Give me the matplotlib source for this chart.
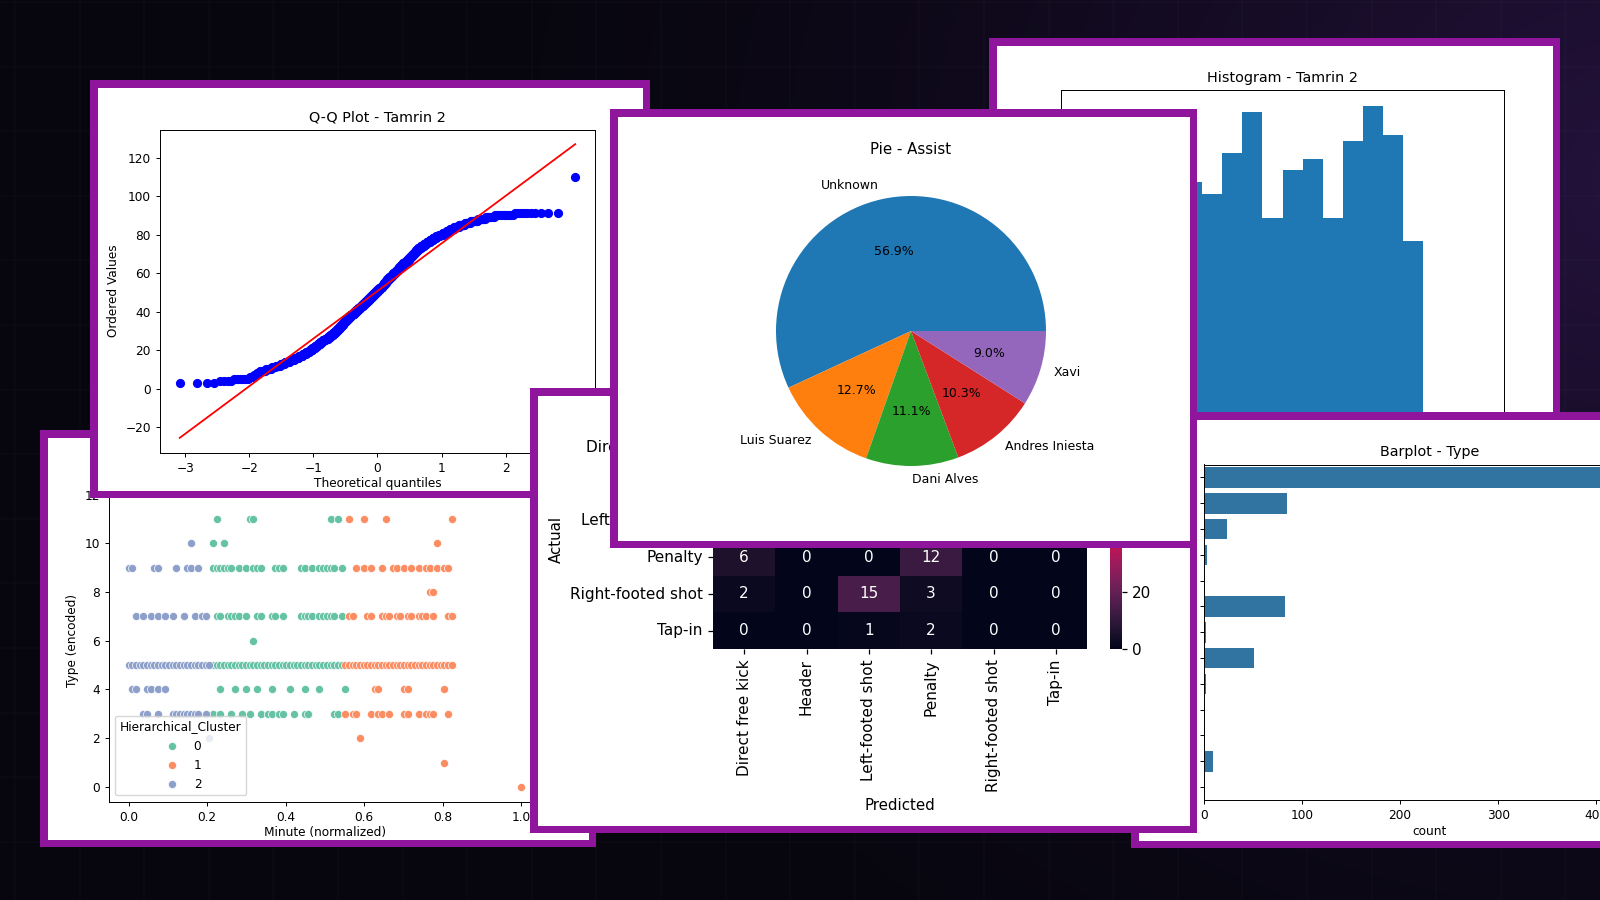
import numpy as np
import matplotlib
matplotlib.use('Agg')
import matplotlib.pyplot as plt
from matplotlib.patches import Rectangle
import seaborn as sns
from statistics import NormalDist

W, H = 1600, 900
PURPLE = '#8f159d'

# minute values (Tamrin 2) and how often each one occurs
minute_vals = [3, 4, 5, 6, 7, 8, 9, 10, 11, 12, 13, 14, 15, 16, 17, 18, 19, 20,
               21, 22, 23, 24, 25, 26, 27, 28, 29, 30, 31, 32, 33, 34, 35, 36, 37, 38,
               39, 40, 41, 42, 43, 44, 45, 46, 47, 48, 49, 50, 51, 52, 53, 54, 55, 56,
               57, 58, 59, 60, 61, 62, 63, 64, 65, 66, 67, 68, 69, 70, 71, 72, 73, 74,
               75, 76, 77, 78, 79, 80, 81, 82, 83, 84, 85, 86, 87, 88, 89, 90, 91, 110]
minute_counts = [4, 4, 7, 3, 2, 2, 5, 6, 5, 6, 6, 8, 8, 8, 8, 8, 8, 7,
                 7, 7, 7, 7, 8, 8, 8, 8, 8, 7, 7, 6, 7, 6, 7, 8, 7, 8,
                 7, 8, 9, 9, 9, 9, 9, 9, 8, 9, 8, 9, 9, 7, 7, 6, 7, 7,
                 8, 9, 8, 9, 8, 7, 8, 7, 7, 8, 7, 7, 7, 7, 6, 7, 9, 10,
                 9, 10, 9, 9, 9, 9, 9, 8, 9, 10, 10, 9, 10, 9, 8, 12, 10, 1]

# pie - assist
pie_labels = ['Unknown', 'Luis Suarez', 'Dani Alves', 'Andres Iniesta', 'Xavi']
pie_values = [56.9, 12.7, 11.1, 10.3, 9.0]

# confusion matrix (top three rows are hidden behind the pie)
cm_labels = ['Direct free kick', 'Header', 'Left-footed shot', 'Penalty',
             'Right-footed shot', 'Tap-in']
cm_values = [[14, 0, 4, 1, 0, 0],
             [0, 3, 2, 0, 5, 0],
             [4, 0, 77, 6, 1, 0],
             [6, 0, 0, 12, 0, 0],
             [2, 0, 15, 3, 0, 0],
             [0, 0, 1, 2, 0, 0]]

# barplot - type
type_counts = [438, 85, 23, 3, 1, 83, 2, 51, 2, 1, 1, 9, 1]

# hierarchical clusters: type code -> minutes
cluster_0 = {11: [27, 36, 37, 58, 60],
             10: [26, 29],
             9: [26, 27, 28, 29, 30, 31, 33, 35, 37, 38, 39, 43, 44, 45, 50, 51, 53, 55,
                 56, 57, 58, 59, 61],
             7: [27, 28, 30, 31, 32, 33, 35, 38, 39, 42, 43, 45, 50, 51, 52, 53, 55, 56,
                 57, 58, 59, 61],
             6: [37],
             5: [26, 27, 28, 29, 30, 31, 32, 33, 34, 35, 36, 37, 38, 39, 40, 41, 42, 43,
                 44, 45, 46, 47, 48, 49, 50, 51, 52, 53, 54, 55, 56, 57, 58, 59, 60, 61],
             4: [28, 32, 35, 38, 42, 47, 51, 55, 62],
             3: [26, 28, 31, 34, 36, 39, 41, 42, 44, 45, 48, 51, 52, 59, 60]}
cluster_1 = {11: [63, 67, 73, 91],
             10: [87],
             9: [65, 67, 69, 72, 75, 76, 78, 80, 82, 84, 85, 87, 89, 90],
             8: [85, 86],
             7: [63, 64, 68, 69, 72, 73, 74, 76, 77, 79, 80, 82, 83, 84, 86, 90, 91],
             5: [62, 63, 64, 65, 66, 67, 68, 69, 70, 71, 72, 73, 74, 75, 76, 77, 78, 79,
                 80, 81, 82, 83, 84, 85, 86, 87, 88, 89, 90, 91],
             4: [70, 71, 78, 79, 89],
             3: [62, 64, 65, 69, 71, 72, 74, 78, 79, 82, 84, 85, 86, 90],
             2: [66],
             1: [89],
             0: [110]}
cluster_2 = {10: [20],
             9: [3, 4, 10, 11, 16, 19, 20, 22],
             7: [5, 7, 9, 11, 13, 15, 18, 21, 23, 24],
             5: [3, 4, 5, 6, 7, 8, 9, 10, 11, 12, 13, 14, 15, 16, 17, 18, 19, 20, 21, 22,
                 23, 24, 25],
             4: [4, 5, 8, 9, 11, 13],
             3: [7, 8, 11, 15, 16, 17, 18, 19, 20, 21, 22, 24],
             2: [25]}

SMALL = 8.7
TITLE = 10.4
BIG = 11

fig = plt.figure(figsize=(16, 9), dpi=100)
fig.patch.set_facecolor('#07060e')


def px_axes(x0, y0, x1, y1, z):
    return fig.add_axes([x0 / W, 1 - y1 / H, (x1 - x0) / W, (y1 - y0) / H], zorder=z)


def panel(x0, y0, x1, y1, z, b=7.5):
    fig.add_artist(Rectangle((x0 / W, 1 - y1 / H), (x1 - x0) / W, (y1 - y0) / H,
                             transform=fig.transFigure, fc=PURPLE, ec='none', zorder=z))
    fig.add_artist(Rectangle(((x0 + b) / W, 1 - (y1 - b) / H), (x1 - x0 - 2 * b) / W,
                             (y1 - y0 - 2 * b) / H, transform=fig.transFigure,
                             fc='white', ec='none', zorder=z + 0.1))


def style(ax, size=SMALL, scale=0.88):
    ax.tick_params(labelsize=size, length=3.5 * scale, width=0.8 * scale)
    for sp in ax.spines.values():
        sp.set_linewidth(0.8 * scale)


# background with purple glow and faint grid
bg = fig.add_axes([0, 0, 1, 1], zorder=-10)
yy, xx = np.mgrid[0:H, 0:W]
d = np.hypot(xx - 1650, (yy - 180) / 0.85)
glow = np.clip(1 - d / 1250, 0, 1) ** 1.5
base = np.array([7, 6, 14]) / 255
hi = np.array([36, 18, 60]) / 255
bg.imshow(base + (hi - base) * glow[..., None], extent=[0, W, H, 0], aspect='auto')
for gx in np.arange(15, W, 64.6):
    bg.axvline(gx, color='white', alpha=0.018, lw=1.2)
for gy in np.arange(2, H, 64.6):
    bg.axhline(gy, color='white', alpha=0.018, lw=1.2)
bg.set_xlim(0, W)
bg.set_ylim(H, 0)
bg.axis('off')

minutes = np.repeat(minute_vals, minute_counts)

# ---- scatter panel ----
panel(40, 430, 596, 847, 10)
ax = px_axes(109, 480, 541, 801.5, 10.5)
mn, mx = min(minute_vals), max(minute_vals)
set2 = sns.color_palette('Set2')
for lab, cl in [(0, cluster_0), (1, cluster_1), (2, cluster_2)]:
    xs, ys = [], []
    for t, ms in cl.items():
        xs += [(m - mn) / (mx - mn) for m in ms]
        ys += [t] * len(ms)
    ax.scatter(xs, ys, s=34, color=set2[lab], edgecolor='white', linewidth=0.5, label=str(lab))
ax.set_xlim(-0.05, 1.05)
ax.set_ylim(-0.6, 12.6)
ax.set_yticks(range(0, 13, 2))
ax.set_xlabel('Minute (normalized)', fontsize=SMALL, labelpad=2)
ax.set_ylabel('Type (encoded)', fontsize=SMALL)
ax.legend(title='Hierarchical_Cluster', loc='lower left', fontsize=SMALL,
          title_fontsize=SMALL, markerscale=1.0)
style(ax)

# ---- Q-Q panel ----
panel(90, 80, 650, 498, 20)
ax = px_axes(160, 129.5, 595, 452.5, 20.5)
osr = np.sort(minutes)
n = len(osr)
p = (np.arange(1, n + 1) - 0.3175) / (n + 0.365)
p[0] = 1 - 0.5 ** (1 / n)
p[-1] = 0.5 ** (1 / n)
osm = np.array([NormalDist().inv_cdf(v) for v in p])
slope, icpt = np.polyfit(osm, osr, 1)
ax.plot(osm, osr, 'bo', ms=5.6)
ax.plot(osm, slope * osm + icpt, 'r-', lw=1.3)
ax.set_title('Q-Q Plot - Tamrin 2', fontsize=TITLE, pad=6)
ax.set_xlabel('Theoretical quantiles', fontsize=SMALL, labelpad=2)
ax.set_ylabel('Ordered Values', fontsize=SMALL)
style(ax)

# ---- histogram panel ----
panel(989, 38, 1560, 466, 30)
ax = px_axes(1061, 90, 1504, 418, 30.5)
ax.hist(minutes, bins=20, color='#1f77b4')
ax.set_title('Histogram - Tamrin 2', fontsize=TITLE, pad=6)
style(ax)

# ---- barplot panel ----
panel(1131, 412, 1680, 848, 40)
ax = px_axes(1204, 464.5, 1655, 800, 40.5)
ax.barh(np.arange(len(type_counts)), type_counts, height=0.8, color='#3274a1')
ax.set_ylim(len(type_counts) - 0.5, -0.5)
ax.set_yticks(range(len(type_counts)))
ax.set_yticklabels([])
ax.set_xlim(0, 460)
ax.set_xticks([0, 100, 200, 300, 400])
ax.set_xlabel('count', fontsize=SMALL, labelpad=2)
ax.set_title('Barplot - Type', fontsize=TITLE, pad=6)
style(ax)

# ---- confusion matrix panel ----
panel(530, 388, 1197, 833, 50)
ax = px_axes(713, 429, 1087, 649, 50.5)
cax = px_axes(1110, 429, 1122, 649, 50.5)
sns.heatmap(np.array(cm_values), annot=True, fmt='d', cmap='rocket',
            xticklabels=cm_labels, yticklabels=cm_labels, ax=ax, cbar_ax=cax,
            annot_kws={'size': BIG})
ax.set_xticklabels(cm_labels, rotation=90, fontsize=BIG)
ax.set_yticklabels(cm_labels, rotation=0, fontsize=BIG)
ax.set_xlabel('Predicted', fontsize=10.8)
ax.set_ylabel('Actual', fontsize=10.8)
ax.tick_params(length=3.8, width=0.9)
cax.tick_params(labelsize=BIG, length=3.8, width=0.9)

# ---- pie panel ----
panel(610, 109, 1197, 548, 60)
ax = px_axes(742.25, 162.25, 1079.75, 499.75, 60.5)
ax.pie(pie_values, labels=pie_labels, autopct='%1.1f%%', textprops={'fontsize': 9})
ax.set_xlim(-1.25, 1.25)
ax.set_ylim(-1.25, 1.25)
ax.set_aspect('equal')
ax.set_title('Pie - Assist', fontsize=10.8, pad=6)

fig.savefig('out.png', dpi=100, facecolor=fig.get_facecolor())
